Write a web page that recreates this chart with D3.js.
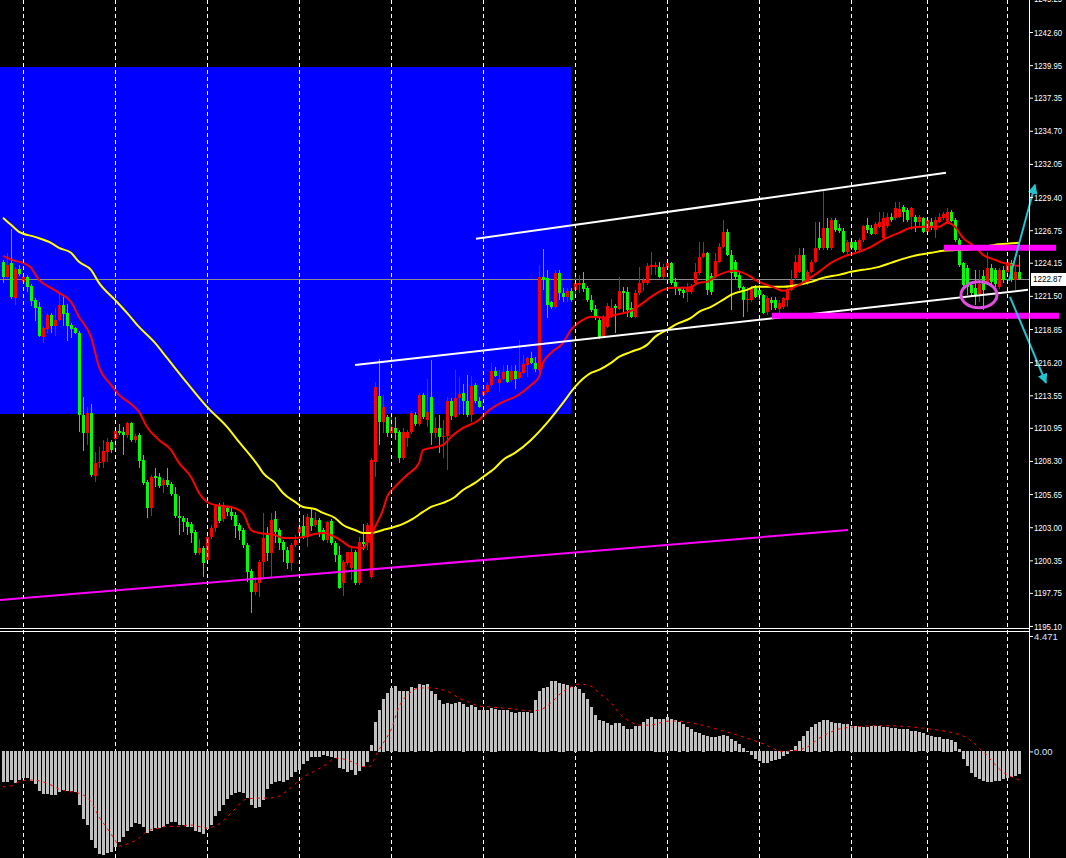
<!DOCTYPE html>
<html><head><meta charset="utf-8">
<script src="https://cdn.jsdelivr.net/npm/d3@7"></script>
<style>html,body{margin:0;padding:0;background:#000;overflow:hidden}</style>
</head><body><svg id="c" width="1066" height="858"></svg>
<script>
// ---- price candles (one per bar, bar 0 = leftmost) ----
const opens = [
1224.22,1223.02,1224.14,1221.34,1223.66,1222.62,1223.02,1222.30,1221.18,1220.62,
1218.22,1218.86,1219.98,1219.10,1219.58,1220.78,1220.14,1219.18,1218.94,1218.54,
1211.98,1210.54,1212.14,1207.10,1208.14,1208.22,1209.02,1209.82,1210.06,1210.70,
1210.62,1210.38,1211.34,1209.98,1210.38,1208.38,1206.62,1204.54,1207.10,1207.02,
1206.38,1206.78,1206.46,1205.66,1203.90,1203.74,1203.42,1203.26,1202.62,1200.94,
1201.34,1200.38,1202.22,1202.94,1204.70,1203.66,1204.54,1204.22,1203.98,1203.18,
1202.78,1201.58,1199.50,1197.82,1198.54,1200.22,1202.38,1200.94,1203.66,1202.78,
1201.82,1201.18,1200.14,1201.58,1202.54,1203.10,1202.22,1203.74,1203.18,1203.58,
1202.78,1201.98,1203.50,1201.74,1200.78,1198.54,1200.14,1199.74,1201.02,1198.54,
1201.82,1201.74,1199.00,1208.22,1213.50,1211.42,1211.82,1210.54,1210.94,1210.62,
1208.54,1210.14,1210.62,1211.98,1211.26,1213.58,1211.58,1213.42,1210.54,1210.94,
1210.22,1210.30,1213.10,1211.82,1213.34,1213.74,1213.10,1211.98,1214.38,1213.10,
1213.58,1213.82,1214.38,1215.50,1214.54,1214.86,1215.50,1214.78,1215.50,1214.94,
1215.34,1215.98,1216.54,1216.14,1215.58,1223.02,1222.94,1221.02,1220.62,1223.34,
1221.74,1221.42,1221.90,1221.98,1222.38,1222.54,1222.14,1221.18,1220.46,1219.58,
1218.22,1219.02,1219.82,1220.70,1220.46,1221.90,1221.82,1220.54,1219.82,1221.74,
1222.54,1222.54,1223.82,1223.82,1223.82,1223.02,1223.74,1224.14,1222.62,1222.14,
1221.98,1221.82,1221.82,1222.54,1223.34,1224.62,1224.94,1223.10,1223.02,1224.22,
1225.42,1226.62,1224.78,1224.22,1223.18,1222.22,1221.18,1221.18,1222.22,1221.98,
1221.58,1220.22,1221.18,1221.18,1220.46,1220.62,1221.18,1221.98,1222.94,1223.42,
1224.78,1222.54,1223.42,1224.22,1226.14,1225.34,1226.94,1225.34,1227.58,1226.94,
1226.70,1225.02,1225.82,1225.82,1225.18,1225.98,1227.18,1226.94,1226.46,1227.02,
1226.14,1227.10,1227.82,1227.74,1227.82,1228.62,1228.38,1227.82,1227.82,1227.42,
1227.74,1226.62,1227.42,1226.78,1227.42,1227.74,1227.42,1228.22,1227.58,1225.98,
1224.14,1223.74,1222.38,1222.14,1221.66,1223.10,1222.62,1223.74,1223.58,1222.22,
1223.58,1223.42,1224.14,1222.78,1223.42];
const highs = [
1224.38,1224.94,1226.86,1223.82,1223.98,1223.18,1223.18,1222.46,1221.34,1221.02,
1219.10,1220.14,1220.14,1220.54,1221.66,1221.42,1220.86,1219.34,1219.02,1218.70,
1213.42,1212.62,1212.86,1209.02,1209.42,1209.98,1210.14,1209.98,1210.86,1211.26,
1211.02,1211.42,1211.42,1210.46,1210.54,1208.78,1206.78,1207.18,1207.74,1207.34,
1206.94,1207.74,1206.62,1206.22,1205.50,1203.90,1203.74,1203.42,1202.78,1202.06,
1201.50,1202.38,1203.18,1204.86,1204.94,1205.02,1204.70,1204.62,1204.22,1203.34,
1202.94,1201.74,1199.66,1199.02,1200.38,1204.14,1203.02,1204.14,1204.30,1202.94,
1201.98,1201.42,1201.74,1202.38,1203.66,1203.98,1204.06,1204.46,1204.22,1203.74,
1202.94,1203.50,1203.66,1201.90,1201.50,1200.38,1201.02,1201.42,1201.18,1202.22,
1203.26,1203.34,1208.54,1214.62,1216.46,1213.58,1211.98,1211.98,1211.82,1210.78,
1210.94,1210.78,1212.30,1212.22,1213.74,1213.74,1214.86,1216.38,1211.82,1211.98,
1211.58,1213.42,1213.34,1215.58,1215.02,1214.46,1215.18,1215.10,1214.54,1213.42,
1214.30,1214.62,1216.14,1215.82,1215.58,1215.98,1215.98,1215.98,1215.98,1217.98,
1216.78,1216.62,1217.02,1216.62,1223.98,1225.26,1223.58,1221.10,1223.58,1223.58,
1222.14,1222.14,1222.14,1223.02,1223.18,1223.42,1222.30,1221.58,1220.78,1219.74,
1219.98,1220.94,1221.26,1220.86,1223.02,1222.22,1222.22,1221.02,1221.98,1223.82,
1222.94,1224.14,1225.02,1224.22,1224.22,1224.06,1224.22,1224.22,1222.94,1222.22,
1222.22,1222.54,1222.46,1224.14,1225.82,1225.82,1225.02,1223.34,1224.94,1225.74,
1227.58,1226.86,1225.18,1224.38,1223.42,1222.30,1222.22,1222.30,1222.38,1222.38,
1221.66,1221.50,1221.42,1221.42,1221.18,1221.42,1222.38,1223.58,1224.78,1225.34,
1225.34,1223.58,1224.38,1227.42,1227.42,1229.90,1227.74,1227.74,1227.74,1227.26,
1226.94,1225.98,1225.98,1225.98,1226.14,1227.18,1227.74,1227.18,1227.42,1228.22,
1228.22,1228.14,1228.14,1229.02,1229.02,1228.78,1228.54,1228.62,1227.98,1227.98,
1227.82,1227.74,1227.74,1227.82,1228.14,1228.22,1228.54,1228.38,1227.74,1226.14,
1224.22,1223.98,1222.54,1223.58,1223.58,1223.58,1225.02,1224.06,1223.74,1223.74,
1223.90,1224.38,1224.38,1223.98,1224.78];
const lows = [
1222.54,1222.94,1221.26,1220.78,1223.10,1222.46,1221.82,1220.70,1219.50,1218.22,
1217.74,1218.54,1218.54,1218.30,1219.50,1219.10,1217.90,1218.14,1218.46,1210.62,
1209.10,1209.58,1207.02,1206.62,1207.74,1207.74,1208.22,1208.94,1209.34,1210.38,
1208.78,1210.14,1209.82,1209.74,1207.74,1206.38,1203.74,1203.90,1206.22,1206.14,
1205.74,1206.22,1205.50,1203.74,1202.38,1202.62,1202.38,1201.74,1200.78,1200.78,
1199.02,1200.22,1202.06,1202.62,1203.34,1203.42,1203.90,1203.58,1202.14,1201.98,
1201.34,1198.62,1196.14,1197.58,1197.42,1199.02,1200.30,1199.02,1201.74,1201.18,
1200.22,1199.66,1199.50,1201.42,1202.14,1202.06,1201.42,1202.70,1203.02,1202.22,
1201.90,1201.74,1201.58,1200.22,1198.06,1197.50,1199.98,1198.78,1198.38,1198.38,
1201.18,1201.18,1198.86,1207.02,1209.58,1210.54,1210.22,1210.22,1209.98,1208.14,
1208.38,1209.42,1210.46,1211.10,1211.10,1211.66,1211.02,1209.58,1210.14,1208.94,
1208.54,1207.58,1211.58,1211.74,1211.98,1211.98,1211.82,1211.42,1212.94,1212.54,
1213.42,1213.74,1214.22,1215.02,1213.82,1214.78,1214.54,1214.62,1214.06,1214.86,
1215.26,1215.02,1216.06,1215.42,1215.42,1221.98,1219.74,1220.46,1220.54,1221.18,
1221.02,1221.02,1221.02,1221.42,1221.74,1221.82,1221.02,1220.22,1219.58,1218.06,
1218.14,1218.94,1219.74,1218.54,1220.38,1220.22,1219.82,1219.74,1219.74,1221.58,
1221.90,1222.38,1223.18,1223.18,1222.94,1222.86,1223.58,1222.38,1221.58,1221.58,
1221.34,1221.02,1221.66,1222.38,1223.18,1224.54,1221.58,1221.58,1222.94,1224.14,
1225.34,1224.70,1220.38,1222.86,1221.98,1219.82,1220.22,1221.02,1221.34,1221.18,
1220.06,1219.98,1220.38,1220.38,1220.14,1220.46,1220.62,1221.90,1222.78,1223.34,
1222.54,1222.38,1223.34,1224.14,1225.18,1225.18,1225.18,1225.18,1226.62,1226.54,
1224.94,1224.78,1225.18,1225.02,1225.02,1225.82,1226.54,1226.38,1226.38,1226.94,
1225.98,1226.94,1227.42,1227.58,1227.74,1227.42,1227.42,1226.78,1226.62,1226.94,
1226.54,1226.54,1226.78,1226.14,1227.34,1227.58,1227.34,1227.42,1225.82,1223.82,
1221.98,1221.58,1221.50,1220.78,1221.02,1220.38,1222.38,1222.30,1222.22,1222.06,
1222.54,1223.26,1222.62,1221.98,1222.78];
const closes = [
1223.02,1223.98,1221.42,1223.66,1223.26,1223.02,1222.22,1221.10,1220.54,1218.30,
1218.94,1219.98,1219.10,1219.58,1220.78,1220.06,1219.10,1218.86,1218.54,1211.98,
1210.54,1212.14,1207.18,1208.14,1208.22,1209.10,1209.82,1209.18,1210.70,1210.54,
1210.38,1211.34,1209.98,1210.30,1208.30,1206.54,1204.54,1207.02,1206.94,1206.30,
1206.78,1206.38,1205.66,1203.90,1203.74,1203.42,1203.02,1202.54,1200.94,1201.34,
1200.14,1202.22,1202.94,1204.70,1203.50,1204.62,1204.22,1203.90,1203.10,1202.70,
1201.58,1199.42,1197.82,1198.54,1200.22,1202.14,1200.94,1203.58,1202.62,1201.74,
1201.18,1200.14,1201.58,1201.98,1203.02,1202.22,1203.82,1203.10,1203.58,1202.62,
1201.98,1203.42,1201.74,1200.78,1198.14,1200.22,1201.02,1201.02,1198.54,1201.82,
1201.66,1203.18,1208.38,1214.22,1211.42,1212.62,1210.54,1211.02,1210.54,1208.54,
1210.62,1210.62,1212.14,1211.26,1213.58,1211.82,1212.22,1210.54,1210.94,1210.22,
1210.30,1213.10,1211.90,1213.34,1213.66,1213.10,1211.98,1214.30,1213.10,1212.62,
1213.90,1214.38,1215.50,1215.10,1214.86,1215.42,1214.62,1215.50,1214.86,1215.42,
1216.06,1216.54,1216.14,1215.66,1223.02,1222.78,1220.78,1220.62,1223.34,1221.74,
1221.42,1221.90,1221.18,1222.54,1222.54,1222.06,1221.18,1220.38,1219.74,1218.22,
1219.82,1220.70,1220.54,1220.54,1221.90,1221.74,1220.38,1219.82,1221.74,1222.54,
1222.78,1223.90,1223.98,1223.98,1223.02,1223.82,1224.14,1222.54,1222.22,1221.90,
1221.74,1222.14,1222.22,1223.42,1224.62,1224.94,1221.98,1221.82,1224.30,1225.42,
1226.62,1224.78,1223.34,1223.02,1222.14,1221.18,1221.26,1222.14,1221.42,1221.58,
1220.14,1221.34,1220.94,1220.54,1220.94,1221.34,1221.98,1222.78,1224.22,1224.78,
1222.62,1223.42,1224.22,1225.34,1225.34,1226.94,1225.34,1227.58,1226.78,1226.70,
1225.02,1225.82,1225.34,1225.18,1225.98,1227.10,1226.78,1226.46,1227.26,1227.42,
1227.74,1227.82,1227.58,1228.54,1228.46,1228.22,1227.58,1228.54,1227.42,1227.82,
1226.62,1227.58,1227.02,1227.58,1227.82,1228.06,1228.22,1227.50,1225.98,1223.98,
1222.38,1222.22,1221.74,1221.50,1222.46,1221.98,1223.74,1222.62,1222.46,1223.58,
1222.78,1224.22,1222.78,1223.42,1222.87];

// ---- moving averages (sampled at bar indices) ----
const redMaBars = [0,3,5,7,9,12,14,17,19,22,24,27,29,32,34,36,39,42,44,47,49,51,53,57,60,62,64,68,70,73,75,78,80,83,85,87,90,91,93,95,96,98,101,104,105,107,110,112,115,119,121,125,128,132,134,135,137,140,142,145,147,151,153,157,160,162,165,167,170,172,174,176,178,181,183,185,187,188,191,193,195,199,201,204,207,210,214,217,220,224,227,230,234,236,238,240,243,245,248,250,254];
const redMa = [1224.70,1224.30,1224.14,1223.74,1222.78,1222.14,1221.74,1221.02,1219.82,1218.22,1215.82,1214.38,1213.58,1212.86,1212.22,1211.02,1209.98,1209.18,1208.14,1207.02,1205.74,1205.02,1204.78,1204.62,1204.14,1202.78,1202.54,1202.38,1202.14,1202.14,1202.22,1202.46,1202.54,1202.22,1201.82,1201.42,1201.34,1201.74,1203.02,1204.38,1205.42,1206.22,1207.18,1208.14,1209.18,1209.34,1209.58,1210.22,1210.94,1211.58,1212.22,1213.02,1213.42,1214.38,1215.02,1216.14,1216.94,1217.74,1218.78,1219.58,1219.82,1219.74,1219.98,1220.30,1220.94,1221.42,1221.98,1222.14,1222.14,1222.22,1222.54,1222.62,1223.02,1223.42,1223.50,1223.34,1223.02,1222.78,1222.38,1222.14,1221.90,1222.38,1222.78,1223.42,1224.14,1224.62,1225.02,1225.42,1225.98,1226.54,1226.94,1227.02,1227.02,1227.34,1227.02,1226.14,1225.42,1224.78,1224.38,1224.14,1223.90];
const yelMaBars = [0,2,4,8,12,14,17,19,22,24,28,31,34,38,41,46,51,56,59,64,65,68,70,73,75,78,80,83,85,88,90,92,95,97,100,102,105,107,110,113,115,118,120,123,125,128,132,136,140,143,147,149,152,154,157,161,163,166,168,172,174,177,180,182,186,188,191,195,199,202,205,209,212,215,219,222,225,229,232,235,242,249,254];
const yelMa = [1227.74,1227.18,1226.62,1226.22,1225.74,1225.34,1224.94,1224.22,1223.58,1222.54,1221.18,1220.14,1219.02,1217.74,1216.54,1214.54,1212.62,1211.02,1209.82,1207.82,1207.34,1206.54,1205.74,1205.02,1204.62,1204.46,1204.14,1203.74,1203.18,1202.78,1202.54,1202.54,1202.78,1202.94,1203.26,1203.58,1204.22,1204.62,1204.94,1205.42,1205.98,1206.54,1207.02,1207.74,1208.38,1208.94,1209.98,1211.34,1212.94,1214.22,1215.34,1215.58,1216.14,1216.62,1217.02,1217.58,1218.22,1218.78,1219.18,1219.74,1220.22,1220.62,1221.18,1221.58,1221.98,1222.22,1222.22,1222.22,1222.38,1222.62,1222.94,1223.18,1223.42,1223.58,1223.82,1224.14,1224.46,1224.78,1224.94,1225.10,1225.22,1225.62,1225.74];

// ---- MACD sub-window ----
const macdHist = [
-1.19,-1.19,-1.12,-1.23,-1.12,-1.06,-1.06,-1.15,-1.28,-1.55,
-1.67,-1.67,-1.71,-1.71,-1.59,-1.51,-1.54,-1.54,-1.58,-2.09,
-2.64,-2.87,-3.45,-3.77,-3.99,-4.03,-3.94,-3.90,-3.71,-3.53,
-3.32,-3.10,-2.93,-2.78,-2.83,-2.93,-3.17,-3.09,-3.00,-3.00,
-2.93,-2.83,-2.74,-2.75,-2.86,-2.87,-2.93,-2.96,-3.09,-3.13,
-3.22,-3.04,-2.87,-2.51,-2.33,-2.09,-1.86,-1.71,-1.62,-1.59,
-1.64,-1.83,-2.09,-2.20,-2.16,-1.90,-1.47,-1.28,-1.19,-1.15,
-1.19,-1.12,-0.99,-0.83,-0.74,-0.50,-0.37,-0.25,-0.22,-0.22,
-0.16,-0.18,-0.22,-0.28,-0.66,-0.70,-0.80,-0.74,-0.92,-0.78,
-0.61,-0.41,0.23,1.14,1.62,2.05,2.26,2.46,2.52,2.36,
2.36,2.36,2.48,2.46,2.60,2.56,2.60,2.36,2.21,1.98,
1.82,1.87,1.82,1.87,1.91,1.84,1.72,1.78,1.72,1.59,
1.59,1.59,1.69,1.65,1.59,1.59,1.59,1.52,1.47,1.52,
1.52,1.52,1.47,1.98,2.36,2.46,2.50,2.71,2.71,2.66,
2.62,2.56,2.48,2.50,2.40,2.26,2.02,1.74,1.40,1.20,
1.16,1.10,1.01,1.10,1.10,0.97,0.85,0.85,0.97,0.97,
1.14,1.24,1.33,1.27,1.27,1.27,1.33,1.25,1.20,1.15,
1.05,0.95,0.85,0.75,0.70,0.65,0.60,0.55,0.55,0.60,
0.65,0.60,0.50,0.40,0.30,0.15,0.00,-0.15,-0.30,-0.40,
-0.45,-0.45,-0.40,-0.35,-0.30,-0.20,-0.10,0.05,0.20,0.40,
0.60,0.80,0.95,1.05,1.15,1.20,1.20,1.15,1.10,1.10,
1.05,1.05,1.00,1.00,1.00,0.95,0.95,1.00,1.00,1.00,
0.95,0.95,0.90,0.90,0.85,0.85,0.85,0.80,0.80,0.75,
0.70,0.65,0.60,0.55,0.55,0.50,0.50,0.45,0.35,0.10,
-0.30,-0.60,-0.85,-1.00,-1.10,-1.15,-1.20,-1.20,-1.15,-1.15,
-1.10,-1.05,-1.00,-0.95,-0.90];
const sigBars = [0,2,4,7,9,12,14,17,19,22,24,26,28,29,31,34,36,39,41,44,47,51,54,57,61,64,66,69,71,73,76,78,81,83,86,88,90,92,93,95,97,99,102,104,107,109,112,114,117,119,122,125,128,132,134,137,139,142,144,147,149,152,154,157,159,162,164,167,170,180,190,195,200,205,210,220,230,240,245,250,254];
const sigVals = [-1.37,-1.34,-1.17,-1.11,-1.14,-1.30,-1.46,-1.56,-1.62,-1.95,-2.53,-2.97,-3.43,-3.67,-3.59,-3.36,-3.09,-2.97,-2.90,-2.90,-2.85,-2.97,-2.81,-2.39,-1.84,-1.81,-1.81,-1.73,-1.52,-1.26,-0.91,-0.75,-0.49,-0.26,-0.33,-0.45,-0.59,-0.57,-0.21,0.31,0.83,1.72,2.30,2.46,2.46,2.42,2.26,2.07,1.88,1.76,1.72,1.68,1.64,1.57,1.60,1.88,2.19,2.50,2.61,2.53,2.26,1.88,1.49,1.14,1.02,1.02,1.10,1.18,1.15,0.80,0.30,0.00,0.10,0.60,0.90,1.00,0.90,0.60,0.00,-0.80,-1.10];

// ---- axes labels ----
const priceTicks = [1195.10,1197.75,1200.35,1203.00,1205.65,1208.30,1210.95,1213.55,1216.20,1218.85,1221.50,1224.15,1226.75,1229.40,1232.05,1234.70,1237.35,1239.95,1242.60,1245.25];
const macdTicks = [4.471,0,-4.244];
const macdTickLabels = ["4.471","0.00","-4.244"];
const gridBars = [5,28,51,74,97,120,143,166,189,212,231,251];
const lastPrice = 1222.87;

// ---- drawn objects (bar, price) ----
const zoneBars = [-1,142], zonePrices = [1239.82,1212.06];
const whiteLines = [ [[118.25,1226.06],[235.75,1231.34]], [[88,1215.98],[256.25,1221.98]] ];
const magentaThin = [[-0.75,1197.18],[211.25,1202.78]];
const magentaBars = [ [[235.25,1225.34],[263.25,1225.34]], [[192.25,1219.90],[264,1219.90]] ];
const ellipseBars = [239.5,248.5], ellipsePrices = [1220.54,1222.62];
const arrows = [ [[251.5,1222.70],[258,1230.38]], [[251.75,1221.42],[260.75,1214.54]] ];

const W=1066,H=858;
const FONT='Liberation Sans, Arial, sans-serif';
const svg=d3.select('#c');
svg.append('rect').attr('width',W).attr('height',H).attr('fill','#000');
const x=d3.scaleLinear().domain([0,254]).range([3,1019]);
const y=d3.scaleLinear().domain([1195.10,1242.60]).range([626,32]);
const ym=d3.scaleLinear().domain([-4.244,4.471]).range([861,636]);
const AX=1029;

const defs=svg.append('defs');
defs.append('clipPath').attr('id','mainClip').append('rect').attr('x',0).attr('y',0).attr('width',AX).attr('height',628);
defs.append('clipPath').attr('id','subClip').append('rect').attr('x',0).attr('y',632).attr('width',AX).attr('height',H-632);
defs.append('marker').attr('id','arr').attr('viewBox','0 0 10 10').attr('refX',9).attr('refY',5)
  .attr('markerWidth',5).attr('markerHeight',5).attr('orient','auto').attr('markerUnits','strokeWidth')
  .append('path').attr('d','M0,0 L10,5 L0,10 z').attr('fill','#22c3d2');

const main=svg.append('g').attr('clip-path','url(#mainClip)');
// blue zone
main.append('rect').attr('x',Math.round(x(zoneBars[0]))).attr('y',Math.round(y(zonePrices[0])))
  .attr('width',Math.round(x(zoneBars[1]))-Math.round(x(zoneBars[0]))).attr('height',Math.round(y(zonePrices[1]))-Math.round(y(zonePrices[0])))
  .attr('fill','#0000ff');
// grid
svg.append('g').selectAll('line').data(gridBars).join('line')
  .attr('x1',d=>x(d)+0.5).attr('x2',d=>x(d)+0.5).attr('y1',0).attr('y2',H)
  .attr('stroke','#ffffff').attr('stroke-width',1).attr('stroke-dasharray','4,3');
// price line
main.append('line').attr('x1',0).attr('x2',AX).attr('y1',Math.round(y(lastPrice))+0.5).attr('y2',Math.round(y(lastPrice))+0.5)
  .attr('stroke','#8c8c8c').attr('stroke-width',1);

// candles
const idx=d3.range(opens.length);
const cg=main.append('g').attr('shape-rendering','crispEdges');
const col=i=>closes[i]>opens[i]?'#ff0000':'#00ff00';
cg.selectAll('rect.w').data(idx).join('rect').attr('class','w')
  .attr('x',i=>x(i)).attr('width',1)
  .attr('y',i=>Math.round(y(highs[i]))).attr('height',i=>Math.max(1,Math.round(y(lows[i]))-Math.round(y(highs[i]))))
  .attr('fill',col);
cg.selectAll('rect.b').data(idx).join('rect').attr('class','b')
  .attr('x',i=>x(i)-1).attr('width',3)
  .attr('y',i=>Math.round(y(Math.max(opens[i],closes[i]))))
  .attr('height',i=>Math.max(1,Math.round(y(Math.min(opens[i],closes[i])))-Math.round(y(Math.max(opens[i],closes[i])))))
  .attr('fill',col);

// moving averages
const maLine=(bars,vals)=>d3.line().x((d,k)=>x(bars[k])).y((d,k)=>y(vals[k])).curve(d3.curveMonotoneX)(vals);
main.append('path').attr('d',maLine(yelMaBars,yelMa)).attr('fill','none').attr('stroke','#ffff00').attr('stroke-width',2);
main.append('path').attr('d',maLine(redMaBars,redMa)).attr('fill','none').attr('stroke','#ff0000').attr('stroke-width',2);

// objects
const P=p=>[x(p[0]),y(p[1])];
main.append('g').selectAll('line').data(whiteLines).join('line')
  .attr('x1',d=>P(d[0])[0]).attr('y1',d=>P(d[0])[1]).attr('x2',d=>P(d[1])[0]).attr('y2',d=>P(d[1])[1])
  .attr('stroke','#ffffff').attr('stroke-width',2);
main.append('line').attr('x1',P(magentaThin[0])[0]).attr('y1',P(magentaThin[0])[1]).attr('x2',P(magentaThin[1])[0]).attr('y2',P(magentaThin[1])[1])
  .attr('stroke','#ff00ff').attr('stroke-width',2);
svg.append('g').selectAll('line').data(magentaBars).join('line')
  .attr('x1',d=>P(d[0])[0]).attr('y1',d=>P(d[0])[1]).attr('x2',d=>P(d[1])[0]).attr('y2',d=>P(d[1])[1])
  .attr('stroke','#ff00ff').attr('stroke-width',6);
svg.append('ellipse').attr('cx',(x(ellipseBars[0])+x(ellipseBars[1]))/2).attr('cy',(y(ellipsePrices[0])+y(ellipsePrices[1]))/2)
  .attr('rx',(x(ellipseBars[1])-x(ellipseBars[0]))/2).attr('ry',(y(ellipsePrices[0])-y(ellipsePrices[1]))/2)
  .attr('fill','none').attr('stroke','#e04ee0').attr('stroke-width',3);
svg.append('g').selectAll('line').data(arrows).join('line')
  .attr('x1',d=>P(d[0])[0]).attr('y1',d=>P(d[0])[1]).attr('x2',d=>P(d[1])[0]).attr('y2',d=>P(d[1])[1])
  .attr('stroke','#22c3d2').attr('stroke-width',2).attr('marker-end','url(#arr)');

// MACD
const sub=svg.append('g').attr('clip-path','url(#subClip)');
sub.append('g').attr('shape-rendering','crispEdges').selectAll('rect').data(idx).join('rect')
  .attr('x',i=>x(i)-1).attr('width',3)
  .attr('y',i=>Math.round(Math.min(ym(0),ym(macdHist[i]))))
  .attr('height',i=>Math.max(1,Math.round(Math.abs(ym(macdHist[i])-ym(0)))))
  .attr('fill','#c0c0c0');
sub.append('path').attr('d',d3.line().x((d,k)=>x(sigBars[k])).y((d,k)=>ym(sigVals[k])).curve(d3.curveMonotoneX)(sigVals))
  .attr('fill','none').attr('stroke','#ff0000').attr('stroke-width',1).attr('stroke-dasharray','3,4');

// borders
svg.append('line').attr('x1',0).attr('x2',AX).attr('y1',628.5).attr('y2',628.5).attr('stroke','#fff');
svg.append('line').attr('x1',0).attr('x2',AX).attr('y1',631.5).attr('y2',631.5).attr('stroke','#fff');
svg.append('line').attr('x1',AX+0.5).attr('x2',AX+0.5).attr('y1',0).attr('y2',H).attr('stroke','#fff');

// price axis
const ax=svg.append('g').attr('transform',`translate(${AX},0)`)
  .call(d3.axisRight(y).tickValues(priceTicks).tickSize(4).tickPadding(1).tickFormat(d3.format('.2f')));
ax.select('.domain').remove();
ax.selectAll('line').attr('stroke','#fff');
ax.selectAll('text').attr('fill','#fff').attr('font-family',FONT).attr('font-size','9.5px')
  .attr('textLength',28).attr('lengthAdjust','spacingAndGlyphs');
// macd axis
const mx=svg.append('g').attr('transform',`translate(${AX},0)`)
  .call(d3.axisRight(ym).tickValues(macdTicks).tickSize(4).tickPadding(1).tickFormat((d,k)=>macdTickLabels[k]));
mx.select('.domain').remove();
mx.selectAll('line').attr('stroke','#fff');
mx.selectAll('text').attr('fill','#cfe3ff').attr('font-family',FONT).attr('font-size','9.5px');

// current price tag
const ly=Math.round(y(lastPrice));
svg.append('rect').attr('x',AX+2).attr('y',ly-6).attr('width',W-AX-2).attr('height',13).attr('fill','#fff');
svg.append('text').attr('x',AX+4).attr('y',ly).attr('dy','0.35em').attr('fill','#000')
  .attr('font-family',FONT).attr('font-size','9.5px').attr('textLength',29).attr('lengthAdjust','spacingAndGlyphs')
  .text(lastPrice.toFixed(2));
</script></body></html>
